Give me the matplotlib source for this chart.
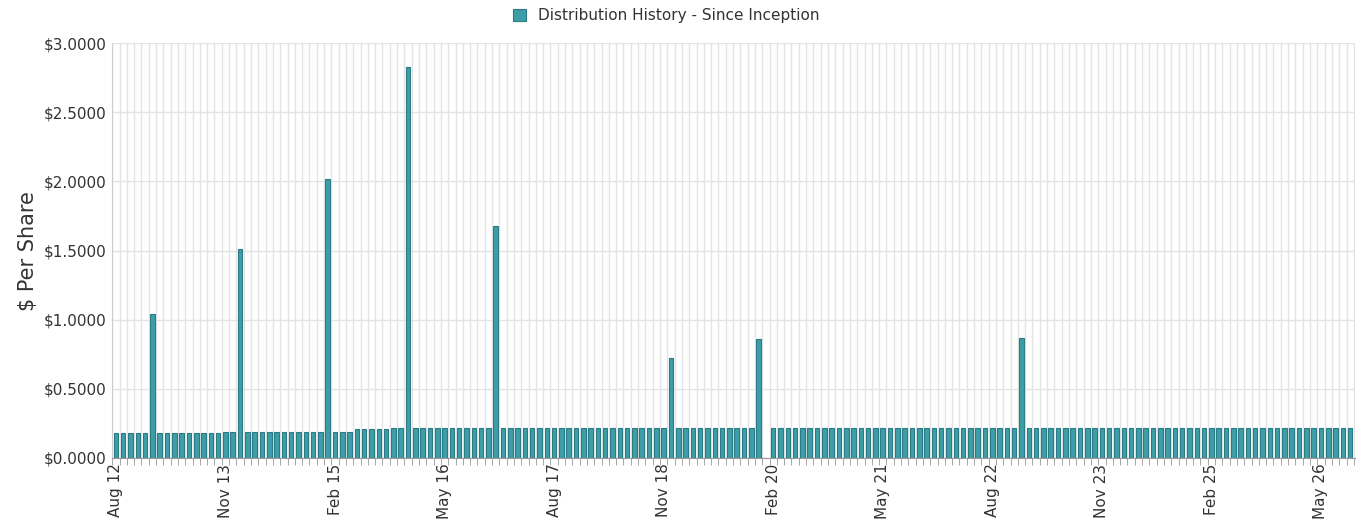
import matplotlib

matplotlib.use("Agg")
import matplotlib.pyplot as plt
import numpy as np

# ==================== Data ====================
MONTHS = ["Jan", "Feb", "Mar", "Apr", "May", "Jun", "Jul", "Aug", "Sep", "Oct", "Nov", "Dec"]
START_YEAR, START_MONTH, N_MONTHS = 2012, 8, 170
labels = []
for i in range(N_MONTHS):
    m = (START_MONTH - 1 + i) % 12
    y = START_YEAR + (START_MONTH - 1 + i) // 12
    labels.append(f"{MONTHS[m]} {y % 100:02d}")

# regular monthly distribution by period
base_values = [0.18] * 15 + [0.19] * 18 + [0.21] * 5 + [0.22] * (N_MONTHS - 38)
# special distributions (index -> $ per share)
special = {5: 1.04, 17: 1.51, 29: 2.02, 40: 2.83, 52: 1.68, 76: 0.72, 88: 0.86, 89: 0.0, 124: 0.87}
values = list(base_values)
for k, v in special.items():
    values[k] = v
# ===============================================

fig = plt.figure(figsize=(13.6, 5.27), dpi=100)
ax = fig.add_axes([0.082, 0.131, 0.914, 0.787])

x = np.arange(N_MONTHS)
bars = ax.bar(x, values, width=0.62, color="#3c9ea8", edgecolor="#2b7a84", linewidth=0.8,
              label="Distribution History - Since Inception", zorder=3)

ax.set_xlim(-0.6, N_MONTHS - 0.4)
ax.set_ylim(0, 3.0)
ax.set_yticks(np.arange(0, 3.01, 0.5))
ax.set_yticklabels([f"${v:.4f}" for v in np.arange(0, 3.01, 0.5)], fontsize=11, color="#333333")

# vertical grid at every category boundary
for b in np.arange(-0.5, N_MONTHS, 1.0):
    ax.axvline(b, color="#e3e3e3", linewidth=1, zorder=0)
ax.yaxis.grid(True, color="#e3e3e3", linewidth=1, zorder=0)
ax.set_axisbelow(True)

ax.set_xticks(np.arange(-0.5, N_MONTHS, 1.0), minor=True)
ax.tick_params(axis="x", which="minor", length=5, color="#999999")
ticks = list(range(0, N_MONTHS, 15))
ax.set_xticks(ticks)
ax.set_xticklabels([labels[i] for i in ticks], rotation=90, fontsize=11, color="#333333")
ax.tick_params(axis="x", which="major", length=0, pad=4)
ax.tick_params(axis="y", length=0)

for side in ["top", "right"]:
    ax.spines[side].set_visible(False)
ax.spines["left"].set_color("#cccccc")
ax.spines["bottom"].set_color("#999999")
ax.set_ylabel("$ Per Share", fontsize=15, color="#333333")

fig.legend(handles=[bars], loc="upper center", bbox_to_anchor=(0.49, 1.01), frameon=False,
           fontsize=11, handlelength=0.8, handleheight=0.8, labelcolor="#333333")

fig.savefig("out.png", dpi=100)
